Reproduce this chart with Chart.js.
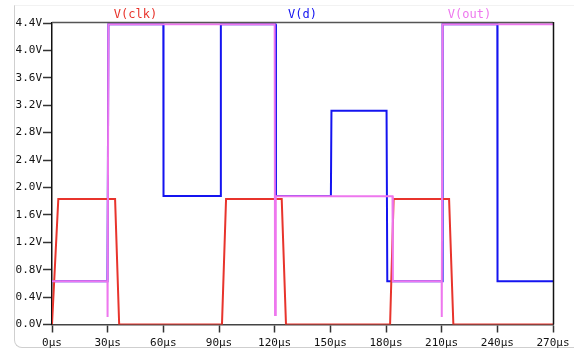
<!DOCTYPE html>
<html>
<head>
<meta charset="utf-8">
<script src="https://cdn.jsdelivr.net/npm/chart.js@4/dist/chart.umd.min.js"></script>
<style>
  html, body { margin: 0; padding: 0; background: #ffffff; }
  #wrap { position: relative; width: 574px; height: 352px; overflow: hidden; }
  #frame { position: absolute; left: 14px; top: 5px; width: 600px; height: 343px;
           border-left: 1px solid #cfcfcf; border-bottom: 1px solid #cfcfcf; border-top: 1px solid #f2f2f2;
           border-bottom-left-radius: 8px; box-sizing: border-box; }
  canvas { position: absolute; left: 0; top: 0; }
</style>
</head>
<body>
<div id="wrap">
  <div id="frame"></div>
  <canvas id="c" width="574" height="352"></canvas>
</div>
<script>
// ---- data ----
const seriesNames = ['V(clk)', 'V(d)', 'V(out)'];

const clkTime = [0, 0.4, 3.4, 34.0, 36.2, 91.6, 93.8, 123.8, 126.1, 182.2, 184.1, 214.0, 216.3, 270];
const clkVolt = [0, 0, 1.83, 1.83, 0, 0, 1.83, 1.83, 0, 0, 1.83, 1.83, 0, 0];

const dTime = [0, 29.9, 30.4, 60.0, 60.1, 90.8, 91.0, 120.4, 120.7, 150.3, 150.6, 180.3, 180.7, 210.2, 210.5, 240.0, 240.1, 270];
const dVolt = [0.63, 0.63, 4.38, 4.38, 1.875, 1.875, 4.38, 4.38, 1.875, 1.875, 3.12, 3.12, 0.63, 0.63, 4.38, 4.38, 0.63, 0.63];

const outTime = [0, 29.9, 29.95, 30.4, 120.0, 120.2, 120.6, 183.5, 183.7, 210.0, 210.05, 210.5, 270];
const outVolt = [0.63, 0.63, 0.11, 4.38, 4.38, 0.14, 1.87, 1.87, 0.63, 0.63, 0.11, 4.38, 4.38];

const xTicks = [0, 30, 60, 90, 120, 150, 180, 210, 240, 270];
const yTicks = [0, 0.4, 0.8, 1.2, 1.6, 2.0, 2.4, 2.8, 3.2, 3.6, 4.0, 4.4];

const colors = ['#e8342c', '#1414f0', '#ee77ee'];

function pts(t, v) { return t.map((x, i) => ({ x: x, y: v[i] })); }

const mono = 'DejaVu Sans Mono';

const framePlugin = {
  id: 'framePlugin',
  afterDatasetsDraw(chart) {
    const a = chart.chartArea, ctx = chart.ctx;
    ctx.save();
    ctx.lineWidth = 1.5;
    ctx.strokeStyle = '#555555';
    ctx.beginPath();
    ctx.moveTo(a.left, a.top - 0.5);
    ctx.lineTo(a.right, a.top - 0.5);
    ctx.stroke();
    ctx.strokeStyle = '#111111';
    ctx.beginPath();
    ctx.moveTo(a.right + 0.5, a.top - 1);
    ctx.lineTo(a.right + 0.5, a.bottom);
    ctx.stroke();
    ctx.restore();
  },
  afterDraw(chart) {
    const a = chart.chartArea, ctx = chart.ctx;
    const n = chart.data.datasets.length;
    ctx.save();
    ctx.font = '12px "' + mono + '"';
    ctx.textAlign = 'center';
    ctx.textBaseline = 'middle';
    chart.data.datasets.forEach((ds, i) => {
      ctx.fillStyle = ds.borderColor;
      ctx.fillText(ds.label, a.left + (a.right - a.left) * (i + 0.5) / n, 15);
    });
    ctx.restore();
  }
};

new Chart(document.getElementById('c'), {
  type: 'line',
  data: {
    datasets: [
      { label: seriesNames[0], data: pts(clkTime, clkVolt), borderColor: colors[0], order: 1 },
      { label: seriesNames[1], data: pts(dTime, dVolt), borderColor: colors[1], order: 2 },
      { label: seriesNames[2], data: pts(outTime, outVolt), borderColor: colors[2], order: 0 }
    ].map(d => Object.assign(d, { borderWidth: 2, pointRadius: 0, tension: 0, fill: false }))
  },
  options: {
    responsive: false,
    animation: false,
    events: [],
    layout: { padding: { left: 14, right: 21, top: 23, bottom: 0 } },
    plugins: { legend: { display: false }, tooltip: { enabled: false } },
    scales: {
      x: {
        type: 'linear',
        min: 0, max: 270,
        afterBuildTicks: s => { s.ticks = xTicks.map(v => ({ value: v })); },
        afterFit: s => { s.height = 27.5; },
        ticks: {
          color: '#111111',
          font: { family: mono, size: 11 },
          padding: 4,
          maxRotation: 0,
          callback: v => v + 'μs'
        },
        grid: { drawOnChartArea: false, tickLength: 8, color: '#333333', tickWidth: 1.5 },
        border: { color: '#444444', width: 1.5 }
      },
      y: {
        type: 'linear',
        min: 0, max: 4.4,
        afterBuildTicks: s => { s.ticks = yTicks.map(v => ({ value: v })); },
        afterFit: s => { s.width = 38; },
        ticks: {
          color: '#111111',
          font: { family: mono, size: 11 },
          padding: 1,
          callback: v => Number(v).toFixed(1) + 'V'
        },
        grid: { drawOnChartArea: false, tickLength: 9, color: '#333333', tickWidth: 1.5 },
        border: { color: '#111111', width: 1.5 }
      }
    }
  },
  plugins: [framePlugin]
});
</script>
</body>
</html>
